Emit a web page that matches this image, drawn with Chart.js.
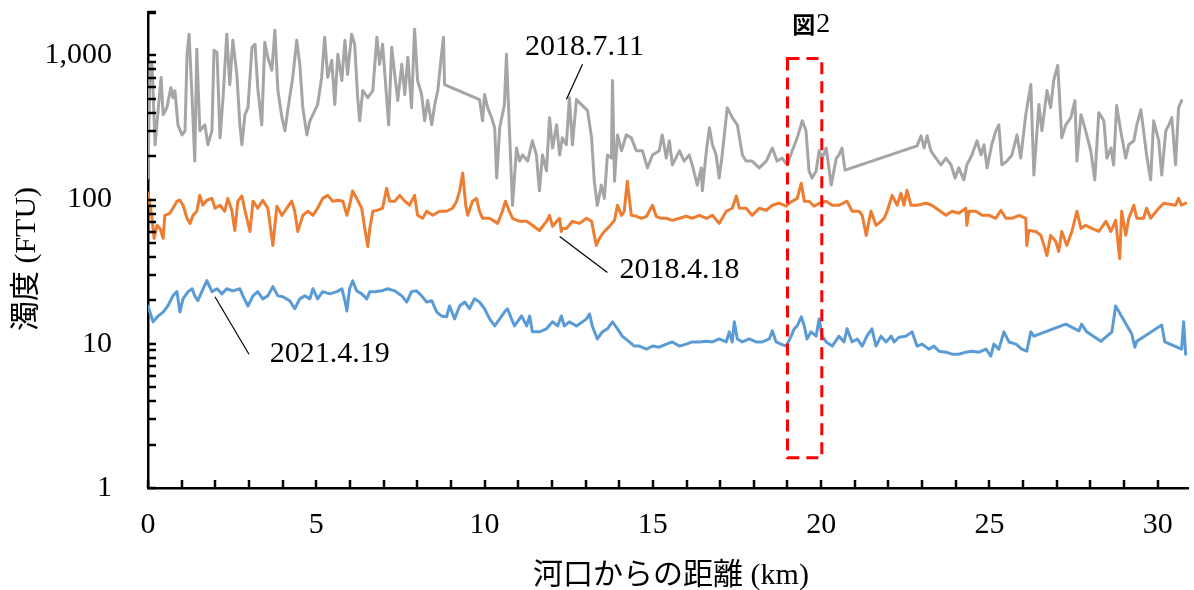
<!DOCTYPE html>
<html><head><meta charset="utf-8">
<script src="https://cdn.jsdelivr.net/npm/chart.js@4.4.1/dist/chart.umd.min.js"></script>
<style>html,body{margin:0;padding:0;background:#fff}canvas{display:block}</style>
</head><body>
<canvas id="c" width="1194" height="590"></canvas>
<script>
// ---- data (distance from river mouth in km, turbidity in FTU) ----
const seriesNames = ['2018.7.11', '2018.4.18', '2021.4.19'];
const xTickValues = [0, 5, 10, 15, 20, 25, 30];
const yTickValues = [1, 10, 100, 1000];

const grayKm = [0.00,0.06,0.12,0.21,0.30,0.39,0.45,0.56,0.68,0.74,
0.80,0.89,1.01,1.10,1.16,1.22,1.31,1.39,1.45,1.54,
1.69,1.78,1.90,1.96,2.05,2.14,2.23,2.34,2.43,2.52,
2.64,2.73,2.79,2.88,2.97,3.09,3.18,3.26,3.38,3.47,
3.56,3.68,3.77,3.86,3.98,4.07,4.15,4.30,4.42,4.51,
4.60,4.72,4.81,4.90,5.04,5.16,5.25,5.34,5.46,5.55,
5.64,5.76,5.85,5.93,6.05,6.14,6.23,6.29,6.38,6.53,
6.68,6.80,6.88,6.97,7.09,7.15,7.24,7.33,7.42,7.54,
7.63,7.72,7.83,7.92,8.01,8.13,8.22,8.31,8.43,8.52,
8.61,8.72,8.78,8.81,9.85,9.94,10.00,10.09,10.21,10.30,
10.36,10.45,10.59,10.65,10.74,10.83,10.95,11.04,11.13,11.28,
11.42,11.54,11.63,11.72,11.84,11.93,12.02,12.14,12.23,12.31,
12.43,12.52,12.61,12.73,13.06,13.18,13.26,13.35,13.47,13.56,
13.65,13.77,13.80,13.86,13.95,14.07,14.21,14.36,14.51,14.69,
14.84,14.99,15.19,15.28,15.40,15.49,15.58,15.79,15.93,16.08,
16.17,16.32,16.44,16.47,16.59,16.68,16.77,16.88,16.97,17.06,
17.21,17.36,17.51,17.66,17.77,17.95,18.16,18.37,18.55,18.69,
18.84,18.99,19.14,19.29,19.44,19.55,19.64,19.73,19.85,19.94,
20.03,20.15,20.30,20.45,20.53,20.62,20.71,22.85,22.97,23.06,
23.15,23.26,23.41,23.56,23.71,23.86,23.98,24.09,24.24,24.33,
24.48,24.63,24.75,24.84,24.93,25.07,25.19,25.28,25.37,25.52,
25.67,25.82,25.93,26.08,26.23,26.32,26.47,26.56,26.71,26.82,
26.91,27.03,27.15,27.27,27.42,27.54,27.60,27.72,27.86,28.01,
28.13,28.25,28.40,28.49,28.61,28.69,28.78,28.90,29.05,29.14,
29.29,29.38,29.50,29.58,29.67,29.79,29.88,30.03,30.12,30.24,
30.33,30.42,30.53,30.62,30.71];
const grayFtu = [141,890,867,240,414,703,388,434,598,509,
570,330,281,300,1018,1403,509,185,1104,300,
330,240,300,1087,1052,268,509,1403,628,1274,
738,330,240,388,434,1140,1195,598,330,1234,
970,787,1497,570,370,300,414,703,1274,867,
434,281,352,388,456,703,1337,703,925,456,
1018,670,1274,738,1403,1195,509,352,570,509,
570,1337,867,1195,509,330,1140,738,486,867,
535,970,434,1521,670,535,352,486,330,456,
570,1018,1337,628,494,352,535,434,370,315,
141,315,456,1018,300,91,228,185,204,185,
256,204,115,204,158,370,228,330,204,268,
240,509,240,494,414,268,134,91,126,102,
204,194,670,134,281,218,281,268,218,218,
166,204,218,281,194,256,174,218,185,204,
174,126,166,115,218,315,240,204,141,204,
434,370,330,204,185,185,166,185,228,185,
194,174,218,268,352,300,158,141,158,218,
194,228,126,194,204,228,160,236,277,228,
277,218,194,174,194,174,141,166,137,174,
204,256,204,240,166,240,300,330,174,185,
204,281,194,388,628,148,456,300,570,434,
670,853,268,330,370,486,185,388,300,218,
137,401,352,194,228,174,449,300,194,240,
256,330,421,300,204,137,352,256,148,300,
330,370,174,434,486];

const orangeKm = [0.00,0.06,0.12,0.18,0.27,0.36,0.45,0.50,0.65,0.74,
0.86,0.95,1.04,1.16,1.25,1.34,1.45,1.54,1.63,1.75,
1.90,1.99,2.14,2.28,2.37,2.49,2.58,2.67,2.79,2.88,
3.03,3.12,3.26,3.41,3.56,3.71,3.83,3.98,4.12,4.27,
4.36,4.45,4.60,4.75,4.90,5.04,5.19,5.34,5.49,5.64,
5.79,5.91,5.99,6.08,6.20,6.35,6.44,6.53,6.59,6.68,
6.82,6.97,7.09,7.18,7.33,7.48,7.63,7.77,7.92,8.01,
8.16,8.28,8.46,8.66,8.87,9.05,9.17,9.26,9.35,9.44,
9.50,9.64,9.76,9.85,9.94,10.15,10.39,10.53,10.62,10.74,
10.83,11.04,11.25,11.42,11.63,11.84,11.93,12.02,12.14,12.23,
12.28,12.31,12.43,12.61,12.82,13.03,13.18,13.26,13.32,13.41,
13.56,13.71,13.86,13.95,14.07,14.15,14.24,14.36,14.51,14.66,
14.81,14.99,15.10,15.25,15.40,15.58,15.79,15.99,16.17,16.38,
16.59,16.77,16.97,17.18,17.36,17.48,17.57,17.77,17.95,18.16,
18.37,18.55,18.75,18.96,19.14,19.29,19.41,19.50,19.64,19.79,
19.94,20.15,20.33,20.53,20.77,20.92,21.13,21.22,21.34,21.48,
21.63,21.78,21.87,21.96,22.11,22.26,22.37,22.46,22.55,22.67,
22.85,23.12,23.29,23.50,23.71,23.89,24.09,24.30,24.33,24.39,
24.60,24.78,24.99,25.19,25.34,25.49,25.67,25.88,26.08,26.11,
26.17,26.38,26.53,26.62,26.71,26.82,26.97,27.06,27.15,27.30,
27.45,27.60,27.72,27.86,28.04,28.25,28.46,28.61,28.75,28.87,
28.93,29.05,29.14,29.29,29.38,29.58,29.67,29.79,30.03,30.18,
30.53,30.62,30.71,30.83];
const orangeFtu = [111,91.4,74.2,53.8,66.3,63.1,53.8,77.8,80.4,87.1,
97.5,99,91.4,74.2,68.4,77.8,83,107,91.4,99,
102,87.1,91.4,83,102,84.4,61.1,97.5,106,84.4,
60.1,97.5,87.1,99,87.1,48.1,90,77.8,87.1,97.5,
83,60.1,77.8,83,77.8,87.1,102,107,97.5,99,
97.5,77.8,91.4,115,102,87.1,63.1,47.3,63.1,83,
84.4,87.1,120,97.5,97.5,107,97.5,91.4,107,77.8,
74.2,83,77.8,83,83,87.1,97.5,115,153,91.4,
77.8,97.5,102,83,74.2,74.2,68.4,83,97.5,83,
74.2,70.7,70.7,66.3,61.1,70.7,77.8,65.2,70.7,74.2,
60.1,63.1,63.1,70.7,68.4,74.2,70.7,56.5,48.1,53.8,
60.1,65.2,71.8,91.4,77.8,83,134,77.8,76.6,74.2,
76.6,91.4,76.6,74.2,74.2,71.8,74.2,76.6,74.2,77.8,
74.2,77.8,68.4,83,87.1,106,87.1,87.1,77.8,87.1,
84.4,91.4,94.4,90,97.5,102,130,97.5,97.5,90,
94.4,97.5,91.4,91.4,97.5,83,83,77.8,56.5,83,
66.3,70.7,74.2,83,107,91.4,111,91.4,116,91.4,
91.4,94.4,91.4,84.4,77.8,83,80.4,87.1,66.3,83,
83,77.8,77.8,74.2,84.4,74.2,74.2,77.8,74.2,48.1,
61.1,60.1,56.5,48.1,40.9,56.5,51.3,43.7,60.1,48.1,
60.1,83,63.1,66.3,63.1,60.1,70.7,60.1,71.8,39,
83,56.5,74.2,91.4,74.2,74.2,87.1,74.2,87.1,94.4,
91.4,102,91.4,94.4];

const blueKm = [0.00,0.15,0.30,0.45,0.59,0.74,0.86,0.95,1.04,1.19,
1.31,1.39,1.48,1.60,1.75,1.90,2.05,2.20,2.34,2.52,
2.73,2.82,2.97,3.12,3.26,3.41,3.56,3.71,3.86,4.01,
4.21,4.36,4.51,4.66,4.81,4.90,5.04,5.19,5.40,5.61,
5.76,5.85,5.91,5.99,6.08,6.20,6.35,6.50,6.59,6.74,
6.94,7.12,7.33,7.54,7.69,7.83,7.98,8.13,8.28,8.43,
8.58,8.72,8.87,8.96,9.11,9.26,9.41,9.55,9.70,9.85,
10.00,10.15,10.30,10.45,10.59,10.68,10.80,10.89,11.10,11.25,
11.34,11.42,11.63,11.84,12.02,12.17,12.28,12.37,12.52,12.73,
12.91,13.03,13.12,13.20,13.35,13.50,13.65,13.80,13.95,14.09,
14.30,14.45,14.60,14.81,14.99,15.19,15.40,15.58,15.79,15.99,
16.17,16.38,16.59,16.77,16.97,17.18,17.27,17.36,17.42,17.51,
17.66,17.86,18.07,18.25,18.46,18.55,18.66,18.81,18.96,19.11,
19.20,19.29,19.41,19.50,19.58,19.70,19.85,19.94,20.03,20.15,
20.33,20.53,20.68,20.77,20.92,21.07,21.22,21.36,21.51,21.63,
21.78,21.93,22.08,22.17,22.31,22.52,22.70,22.85,23.00,23.20,
23.35,23.50,23.71,23.89,24.09,24.30,24.48,24.69,24.90,25.04,
25.13,25.28,25.43,25.58,25.79,25.96,26.11,26.23,26.32,27.27,
27.66,27.74,27.89,28.31,28.64,28.75,29.23,29.32,29.38,30.12,
30.21,30.71,30.77,30.83];
const blueFtu = [18.3,14.2,15.6,16.6,18.3,21.5,23,16.6,20.5,23,
24.1,21.5,19.9,23,27.4,23,24.1,22.2,24.1,23.3,
24.1,21.5,18.3,21.5,23,20.5,21.5,24.9,21.5,21.2,
19.9,17.5,20.5,21.5,20.5,24.1,20.5,23,22.2,23,
24.1,19.9,16.9,24.1,27.4,23.3,22.2,20.5,23,23,
23.3,24.1,23.3,21.5,19.5,23,23.3,21.5,19.5,19.9,
16.6,15.6,15.4,18.3,14.9,18.3,19.5,17.5,20.5,19.5,
17.5,14.9,13.3,14.9,16.6,17.5,14.9,13.3,15.6,13.3,
15.6,12.1,12.1,12.7,14.2,13.3,15.6,13.3,14.2,13.3,
14.2,14.9,16.1,13.3,10.8,12.1,12.7,14.2,12.7,11.3,
10.3,9.64,9.64,9.18,9.64,9.48,9.95,10.3,9.64,9.95,
10.3,10.3,10.4,10.3,10.8,10.3,12.1,10.3,14.2,10.8,
10.3,10.8,10.3,10.3,10.8,12.3,10.3,9.95,9.64,11.3,
12.7,13.3,15.4,13.3,10.8,12.1,11.3,14.9,11.3,10.3,
9.64,11.3,10.3,12.7,10.3,10.8,9.64,11.3,12.7,9.64,
11.3,10.3,11.3,10.3,11.1,11.3,12.1,9.64,9.95,9.18,
9.64,8.89,8.75,8.47,8.47,8.75,8.89,8.75,9.18,8.2,
9.95,9.18,12.1,10.3,9.95,9.18,8.89,12.1,11.3,13.7,
12.3,13.7,12.1,10.4,12.1,18.3,11.7,9.48,10.4,13.5,
10.3,9.18,14.2,8.47];

const xTitle = '河口からの距離 (km)';
const yTitle = '濁度 (FTU)';
const figLabel = ['図', '2'];

// ---- drawing ----
const SERIF = "'Liberation Serif','Times New Roman',serif";
const MIXED = "'Liberation Serif','Noto Sans CJK JP',serif";
const toPts = (xs, ys) => xs.map((x, i) => ({x: x, y: ys[i]}));

const decor = {
  id: 'decor',
  afterDraw(chart) {
    const {ctx, chartArea: a, scales: {x, y}} = chart;
    const X = v => x.getPixelForValue(v), Y = v => y.getPixelForValue(v);
    const seg = (x1, y1, x2, y2) => { ctx.beginPath(); ctx.moveTo(x1, y1); ctx.lineTo(x2, y2); ctx.stroke(); };
    ctx.save();
    // inside tick marks
    ctx.strokeStyle = '#000'; ctx.lineWidth = 2.5; ctx.setLineDash([]);
    for (let e = 0; e <= 3; e++) {
      for (let m = 1; m <= 9; m++) {
        const v = m * Math.pow(10, e);
        if (v > y.max) break;
        const py = Math.round(Y(v));
        seg(a.left, py, a.left + 8, py);
      }
    }
    seg(a.left, a.top + 1, a.left + 8, a.top + 1);
    for (let k = 0; k <= Math.floor(x.max); k++) {
      const px = Math.round(X(k));
      seg(px, a.bottom, px, a.bottom - 8);
    }
    // red dashed frame (図2 area)
    ctx.strokeStyle = '#FF0000'; ctx.lineWidth = 3; ctx.setLineDash([12, 7]);
    const bx1 = X(19.0), bx2 = X(20.02), by1 = Y(950), by2 = Y(1.62);
    ctx.strokeRect(bx1, by1, bx2 - bx1, by2 - by1);
    ctx.setLineDash([]);
    // leader lines
    ctx.strokeStyle = '#000'; ctx.lineWidth = 1.2;
    seg(X(12.43), Y(494), X(12.91), Y(867));
    seg(X(12.23), Y(55.5), X(13.65), Y(31.2));
    seg(X(1.99), Y(21.2), X(3.0), Y(8.47));
    // series labels
    ctx.fillStyle = '#000'; ctx.font = '30px ' + SERIF;
    ctx.textAlign = 'center'; ctx.textBaseline = 'middle';
    ctx.fillText(seriesNames[0], X(12.97), Y(1140));
    ctx.fillText(seriesNames[1], X(15.79), Y(32.2));
    ctx.fillText(seriesNames[2], X(5.40), Y(8.47));
    // 図2
    ctx.textAlign = 'left';
    ctx.font = "bold 23px 'Noto Sans CJK JP',sans-serif";
    const fx = X(19.14), fy = Y(1648);
    ctx.fillText(figLabel[0], fx, fy);
    const w0 = ctx.measureText(figLabel[0]).width;
    ctx.font = '28px ' + SERIF;
    ctx.fillText(figLabel[1], fx + w0 + 1, fy + 1);
    // axis titles
    ctx.textAlign = 'center';
    ctx.font = '30px ' + MIXED;
    ctx.fillText(xTitle, 671, 576);
    ctx.save();
    ctx.translate(27, 259); ctx.rotate(-Math.PI / 2);
    ctx.fillText(yTitle, 0, 0);
    ctx.restore();
    ctx.restore();
  }
};

new Chart(document.getElementById('c'), {
  type: 'line',
  data: {
    datasets: [
      {label: seriesNames[0], data: toPts(grayKm, grayFtu), borderColor: '#A5A5A5'},
      {label: seriesNames[1], data: toPts(orangeKm, orangeFtu), borderColor: '#ED7D31'},
      {label: seriesNames[2], data: toPts(blueKm, blueFtu), borderColor: '#5B9BD5'}
    ]
  },
  options: {
    responsive: false, animation: false, devicePixelRatio: 1,
    elements: {
      point: {radius: 0, hoverRadius: 0},
      line: {tension: 0, borderWidth: 3, borderJoinStyle: 'round', borderCapStyle: 'round', fill: false}
    },
    layout: {padding: {top: 12, right: 6, left: 0, bottom: 0}},
    plugins: {legend: {display: false}, tooltip: {enabled: false}},
    scales: {
      x: {
        type: 'linear', min: 0, max: 30.9,
        afterBuildTicks: s => { s.ticks = xTickValues.map(v => ({value: v})); },
        afterFit: s => { s.height = 102; s.paddingLeft = 0; s.paddingRight = 0; },
        grid: {display: false, drawTicks: false},
        border: {display: true, color: '#000', width: 2.5},
        ticks: {font: {family: SERIF, size: 30}, color: '#000', padding: 19, maxRotation: 0, autoSkip: false}
      },
      y: {
        type: 'logarithmic', min: 1, max: 2000,
        afterBuildTicks: s => { s.ticks = yTickValues.map(v => ({value: v})); },
        afterFit: s => { s.width = 148; s.paddingTop = 0; s.paddingBottom = 0; },
        grid: {display: false, drawTicks: false},
        border: {display: true, color: '#000', width: 2.5},
        ticks: {font: {family: SERIF, size: 30}, color: '#000', padding: 36, autoSkip: false,
          callback: v => Number(v).toLocaleString('en-US')}
      }
    }
  },
  plugins: [decor]
});
</script>
</body></html>
